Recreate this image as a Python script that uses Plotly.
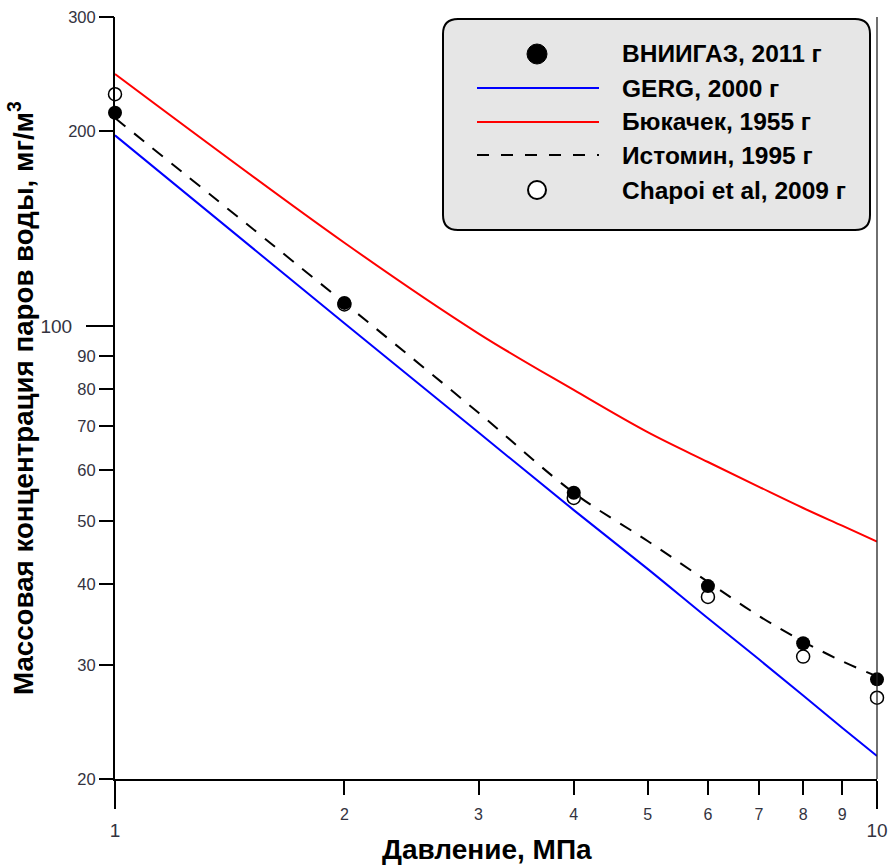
import plotly.graph_objects as go

# ---------------- data ----------------
pressure = [1, 2, 3, 4, 5, 6, 7, 8, 9, 10]
gerg_2000 = [197, 101, 68.5, 52.0, 42.2, 35.4, 30.6, 26.9, 24.0, 21.7]
bukacek_1955 = [245, 134.5, 97.4, 79.7, 68.6, 61.7, 56.5, 52.4, 49.2, 46.5]
istomin_1995 = [209.5, 108.6, 73.5, 55.3, 46.6, 40.3, 35.7, 32.6, 30.4, 28.8]

exp_pressure = [1, 2, 4, 6, 8, 10]
vniigaz_2011 = [213.5, 108.6, 55.3, 39.7, 32.4, 28.5]
chapoi_2009 = [228, 108.0, 54.3, 38.2, 30.9, 26.7]

x_major_ticks = [1, 10]
x_minor_ticks = [2, 3, 4, 5, 6, 7, 8, 9]
y_major_ticks = [100]
y_minor_ticks = [20, 30, 40, 50, 60, 70, 80, 90, 200, 300]

legend_names = ["ВНИИГАЗ, 2011 г", "GERG, 2000 г", "Бюкачек, 1955 г",
                "Истомин, 1995 г", "Chapoi et al, 2009 г"]

x_title = "Давление, МПа"
y_title = "Массовая концентрация паров воды, мг/м<sup>3</sup>"

# ---------------- layout geometry ----------------
W, H = 889, 865
L, R, T, B = 115, 12, 17, 86
PW = W - L - R
PH = H - T - B

def px(xp):
    return (xp - L) / PW

def py(yp):
    return (H - B - yp) / PH

FONT = "Liberation Sans, Arial, sans-serif"
TICKC = "#333340"
DASH = "13px,11px"

fig = go.Figure()

fig.add_trace(go.Scatter(x=pressure, y=bukacek_1955, mode="lines",
                         line=dict(color="#ff0000", width=2, shape="spline"),
                         name=legend_names[2], showlegend=False, cliponaxis=False))
fig.add_trace(go.Scatter(x=pressure, y=gerg_2000, mode="lines",
                         line=dict(color="#0000ff", width=2, shape="spline"),
                         name=legend_names[1], showlegend=False, cliponaxis=False))
fig.add_trace(go.Scatter(x=pressure, y=istomin_1995, mode="lines",
                         line=dict(color="black", width=2, dash=DASH, shape="spline"),
                         name=legend_names[3], showlegend=False, cliponaxis=False))
fig.add_trace(go.Scatter(x=exp_pressure, y=chapoi_2009, mode="markers",
                         marker=dict(symbol="circle", size=13, color="white",
                                     line=dict(color="black", width=1.5)),
                         name=legend_names[4], showlegend=False, cliponaxis=False))
# filled dots on the overlaying axes (identical ranges) so they are drawn on top
fig.add_trace(go.Scatter(x=exp_pressure, y=vniigaz_2011, mode="markers",
                         xaxis="x2", yaxis="y2",
                         marker=dict(symbol="circle", size=14, color="black",
                                     line=dict(color="black", width=0)),
                         name=legend_names[0], showlegend=False, cliponaxis=False))

common_axis = dict(type="log", showgrid=False, zeroline=False, automargin=False)

fig.update_layout(
    template="none",
    width=W, height=H, autosize=False,
    margin=dict(l=L, r=R, t=T, b=B, pad=0, autoexpand=False),
    paper_bgcolor="white", plot_bgcolor="white",
    font=dict(family=FONT, color="black"),
    showlegend=False,
    xaxis=dict(**common_axis, range=[0, 1],
               showline=True, linecolor="black", linewidth=2,
               ticks="outside", ticklen=28, tickwidth=2, tickcolor="black",
               tickvals=x_major_ticks, ticktext=[str(v) for v in x_major_ticks],
               ticklabelstandoff=5,
               tickfont=dict(family=FONT, size=19, color=TICKC)),
    xaxis2=dict(**common_axis, range=[0, 1], overlaying="x", anchor="y", side="bottom",
                showline=False,
                ticks="outside", ticklen=15, tickwidth=2, tickcolor="black",
                tickvals=x_minor_ticks, ticktext=[str(v) for v in x_minor_ticks],
                ticklabelstandoff=6,
                tickfont=dict(family=FONT, size=16, color=TICKC)),
    yaxis=dict(**common_axis, range=[1.30103, 2.4771213],
               showline=True, linecolor="black", linewidth=2,
               ticks="outside", ticklen=27, tickwidth=2, tickcolor="black",
               tickvals=y_major_ticks, ticktext=[str(v) for v in y_major_ticks],
               ticklabelstandoff=10,
               tickfont=dict(family=FONT, size=19, color=TICKC)),
    yaxis2=dict(**common_axis, range=[1.30103, 2.4771213], overlaying="y", anchor="x",
                side="left", showline=False,
                ticks="outside", ticklen=15, tickwidth=2, tickcolor="black",
                tickvals=y_minor_ticks, ticktext=[str(v) for v in y_minor_ticks],
                tickfont=dict(family=FONT, size=16.5, color=TICKC)),
)

shapes = []
# right frame line
shapes.append(dict(type="line", xref="paper", yref="paper", x0=1, x1=1, y0=0, y1=1,
                   line=dict(color="#222222", width=1.3), layer="above"))

# legend box with rounded corners
bx0, bx1, by0, by1, r = 443, 870, 19, 230, 15
path = (f"M {px(bx0 + r)},{py(by0)} L {px(bx1 - r)},{py(by0)} "
        f"Q {px(bx1)},{py(by0)} {px(bx1)},{py(by0 + r)} "
        f"L {px(bx1)},{py(by1 - r)} Q {px(bx1)},{py(by1)} {px(bx1 - r)},{py(by1)} "
        f"L {px(bx0 + r)},{py(by1)} Q {px(bx0)},{py(by1)} {px(bx0)},{py(by1 - r)} "
        f"L {px(bx0)},{py(by0 + r)} Q {px(bx0)},{py(by0)} {px(bx0 + r)},{py(by0)} Z")
shapes.append(dict(type="path", xref="paper", yref="paper", path=path,
                   fillcolor="#e6e6e6", line=dict(color="black", width=2), layer="above"))

rows = [54, 88, 122, 155, 190]
sym_x = 537
line_x0, line_x1 = 477, 599
# legend symbols
shapes.append(dict(type="circle", xref="paper", yref="paper", xsizemode="pixel", ysizemode="pixel",
                   xanchor=px(sym_x), yanchor=py(rows[0]), x0=-10, x1=10, y0=-10, y1=10,
                   fillcolor="black", line=dict(color="black", width=1), layer="above"))
shapes.append(dict(type="line", xref="paper", yref="paper", x0=px(line_x0), x1=px(line_x1),
                   y0=py(rows[1]), y1=py(rows[1]), line=dict(color="#0000ff", width=2), layer="above"))
shapes.append(dict(type="line", xref="paper", yref="paper", x0=px(line_x0), x1=px(line_x1),
                   y0=py(rows[2]), y1=py(rows[2]), line=dict(color="#ff0000", width=2), layer="above"))
shapes.append(dict(type="line", xref="paper", yref="paper", x0=px(line_x0), x1=px(line_x1),
                   y0=py(rows[3]), y1=py(rows[3]), line=dict(color="black", width=2, dash="12px,12px"),
                   layer="above"))
shapes.append(dict(type="circle", xref="paper", yref="paper", xsizemode="pixel", ysizemode="pixel",
                   xanchor=px(sym_x), yanchor=py(rows[4]), x0=-9, x1=9, y0=-9, y1=9,
                   fillcolor="white", line=dict(color="black", width=2), layer="above"))

annotations = []
for name, row in zip(legend_names, rows):
    annotations.append(dict(text=f"<b>{name}</b>", xref="paper", yref="paper",
                            x=px(620), y=py(row), xanchor="left", yanchor="middle",
                            showarrow=False, font=dict(family=FONT, size=24.5, color="black")))

annotations.append(dict(text=f"<b>{x_title}</b>", xref="paper", yref="paper",
                        x=px(487), y=py(849), xanchor="center", yanchor="middle",
                        showarrow=False, font=dict(family=FONT, size=28, color="black")))
annotations.append(dict(text=f"<b>{y_title}</b>", xref="paper", yref="paper",
                        x=px(21), y=py(398), xanchor="center", yanchor="middle", textangle=-90,
                        showarrow=False, font=dict(family=FONT, size=27.7, color="black")))

fig.update_layout(shapes=shapes, annotations=annotations)

fig.write_html(
    "out.html",
    config={"displayModeBar": False, "responsive": False},
    post_script=("document.documentElement.style.overflow='hidden';"
                 "document.body.style.overflow='hidden';"
                 "document.body.style.margin='0';document.body.style.padding='0';"),
)
